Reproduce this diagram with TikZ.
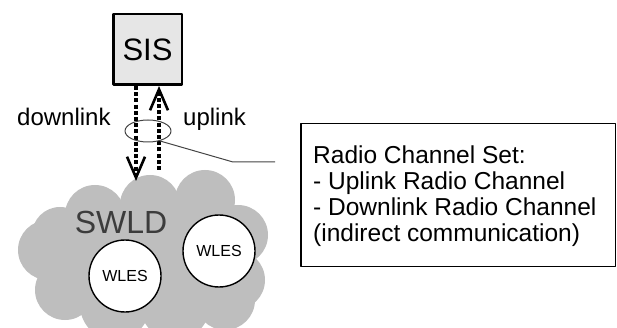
\documentclass[tikz,border=0pt]{standalone}
\usepackage{fontspec}
\setmainfont{Liberation Sans}
\usetikzlibrary{arrows.meta,shapes.geometric}
\definecolor{cloudgray}{HTML}{BEBEBE}
\definecolor{sisgray}{HTML}{E6E6E6}
\definecolor{swldgray}{HTML}{3C3C3C}
\definecolor{linegray}{HTML}{444444}
\tikzset{
  radiolink/.style={line width=3.6pt,dash pattern=on 4pt off 2.2pt,-{Straight Barb[length=21pt,width=18pt,line width=2.6pt]}},
  wles/.style={circle,draw,line width=1.4pt,fill=white,minimum size=72pt,inner sep=0pt,font=\fontsize{16}{16}\selectfont},
  linklabel/.style={anchor=base west,inner sep=0pt,font=\fontsize{24}{24}\selectfont},
  chanline/.style={anchor=base west,inner sep=0pt,font=\fontsize{24.5}{24.5}\selectfont}
}
\begin{document}
\begin{tikzpicture}[x=1pt,y=-1pt,line join=round]
	\useasboundingbox (0,0) rectangle (617,328);
	% cloud
	\fill[cloudgray] (145,255) ellipse (95pt and 55pt);
	\foreach \cx/\cy/\r in {95/215/30,60/235/28,48/250/30,150/205/30,205/200/30,238/235/30,235/280/30,65/290/30,115/305/35,175/305/35,225/300/30}
		\fill[cloudgray] (\cx,\cy) circle (\r pt);
	\node[font=\fontsize{32}{32}\selectfont,text=swldgray] (swld) at (121,222) {SWLD};
	\node[wles] (wles1) at (125,276) {WLES};
	\node[wles] (wles2) at (219,251) {WLES};
	% server
	\node[draw,line width=2.5pt,fill=sisgray,minimum width=68.5pt,minimum height=70.5pt,font=\fontsize{31}{31}\selectfont] (sis) at (147.5,49.5) {SIS};
	% links
	\coordinate (dltip) at (136,181);
	\coordinate (ulfoot) at (159,170);
	\draw[radiolink] (dltip |- sis.south) -- (dltip);
	\draw[radiolink] (ulfoot) -- (ulfoot |- sis.south);
	\node[linklabel] (dl) at (17,126) {downlink};
	\node[linklabel] (ul) at (183,126) {uplink};
	\node[ellipse,draw=linegray,line width=1pt,minimum width=46pt,minimum height=22pt,inner sep=0pt] (linkset) at (148,131) {};
	% channel set
	\node[draw,line width=1.4pt,minimum width=314.6pt,minimum height=142.6pt] (chanset) at (458.3,195) {};
	\node[chanline] (chan1) at (313,164) {Radio Channel Set:};
	\node[chanline] (chan2) at (313,189.7) {- Uplink Radio Channel};
	\node[chanline] (chan3) at (313,215.4) {- Downlink Radio Channel};
	\node[chanline] (chan4) at (313,241) {(indirect communication)};
	\coordinate (linkbend) at (233,162);
	\coordinate (linkend) at (275,162);
	\draw[linegray,line width=1pt] (linkset.-40) -- (linkbend) -- (linkend);
\end{tikzpicture}
\end{document}
